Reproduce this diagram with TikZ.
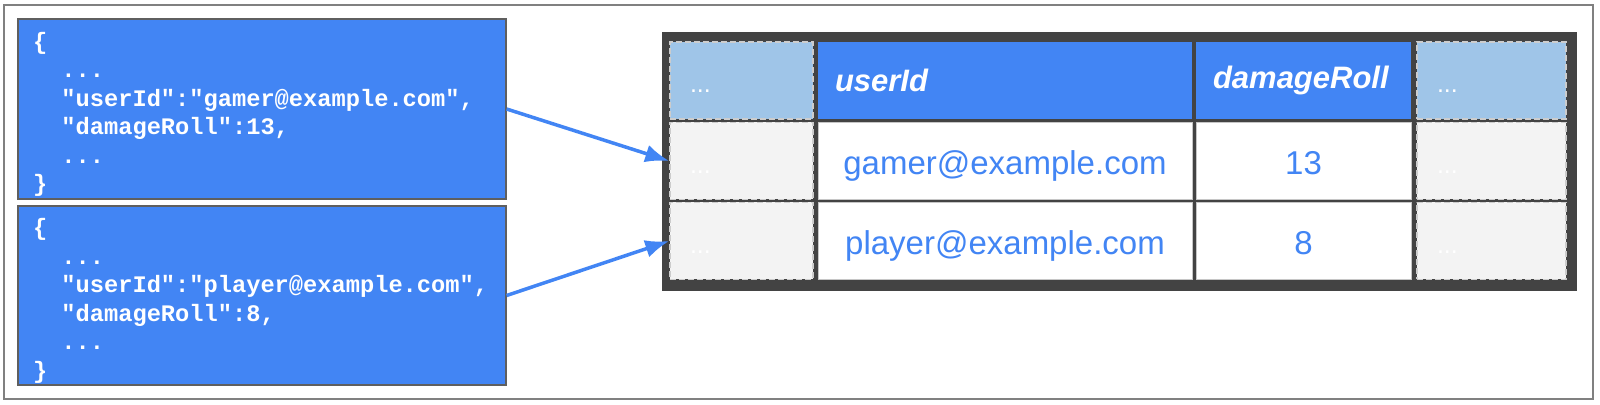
\documentclass[tikz,border=0pt]{standalone}
\usepackage{fontspec}
\setmainfont{Liberation Sans}
\setmonofont{Liberation Mono}
\usetikzlibrary{arrows.meta}

\definecolor{gblue}{RGB}{66,133,244}
\definecolor{hdrlight}{RGB}{159,197,232}
\definecolor{celllight}{RGB}{243,243,243}
\definecolor{tabledark}{RGB}{67,67,67}
\definecolor{dashgray}{RGB}{204,204,204}
\definecolor{edgegray}{RGB}{95,95,95}
\definecolor{framegray}{RGB}{128,128,128}

\begin{document}
\begin{tikzpicture}[x=0.5pt,y=-0.5pt,>={Latex[length=12pt,width=9pt]},
  json node/.style={draw=edgegray,line width=0.6pt,fill=gblue,text=white,align=left,
    font=\ttfamily\bfseries\fontsize{11.85}{14.25}\selectfont,
    text width=229pt,inner xsep=7.5pt,inner ysep=0pt,minimum height=90pt},
  dots node/.style={draw=dashgray,dash pattern=on 3pt off 1.5pt,line width=0.75pt,
    text=white,align=left,font=\fontsize{12.5}{15}\selectfont,text width=#1,
    inner xsep=10pt,text height=12.5pt,text depth=0pt,minimum height=38.5pt},
  head node/.style={fill=gblue,text=white,align=left,
    font=\bfseries\itshape\fontsize{15.5}{18}\selectfont,text width=#1,
    inner xsep=8.5pt,minimum height=38.5pt},
  data node/.style={fill=white,draw=gray!45,line width=0.4pt,text=gblue,
    font=\fontsize{16.5}{20}\selectfont,minimum width=#1,minimum height=38.5pt,
    text height=14pt,text depth=0pt},
  link/.style={->,draw=gblue,line width=1.75pt}]

  \useasboundingbox (0,0) rectangle (1600,405);
  \draw[framegray,line width=0.75pt] (4,5) rectangle (1593,399);

  % records
  \node[json node] (j1) at (262,109) {\rule{0pt}{14pt}\{\\
    \phantom{xx}...\\
    \phantom{xx}"userId":"gamer@example.com",\\
    \phantom{xx}"damageRoll":13,\\
    \phantom{xx}...\\
    \}};
  \node[json node,minimum height=89.5pt] (j2) at (262,295.5) {\rule{0pt}{14pt}\{\\
    \phantom{xx}...\\
    \phantom{xx}"userId":"player@example.com",\\
    \phantom{xx}"damageRoll":8,\\
    \phantom{xx}...\\
    \}};

  % table
  \node[fill=tabledark,minimum width=457.5pt,minimum height=129.5pt,inner sep=0pt] (tbl) at (1119.5,161.5) {};

  \node[dots node=51.5pt,fill=hdrlight] (h0) at (741.5,80.5) {...};
  \node[head node=170pt] (h1) at (1005,80.5) {userId};
  \node[head node=90.5pt] (h2) at (1303.5,80.5) {damageRoll};
  \node[dots node=54.5pt,fill=hdrlight] (h3) at (1491.5,80.5) {...};

  \node[dots node=51.5pt,fill=celllight] (g0) at (741.5,161) {...};
  \node[data node=187pt] (g1) at (1005,161) {gamer@example.com};
  \node[data node=107.5pt] (g2) at (1303.5,161) {13};
  \node[dots node=54.5pt,fill=celllight] (g3) at (1491.5,161) {...};

  \node[dots node=51.5pt,fill=celllight] (p0) at (741.5,241) {...};
  \node[data node=187pt] (p1) at (1005,241) {player@example.com};
  \node[data node=107.5pt] (p2) at (1303.5,241) {8};
  \node[dots node=54.5pt,fill=celllight] (p3) at (1491.5,241) {...};

  \path (j1.east) edge[link] (g0.west)
        (j2.east) edge[link] (p0.west);

\end{tikzpicture}
\end{document}
